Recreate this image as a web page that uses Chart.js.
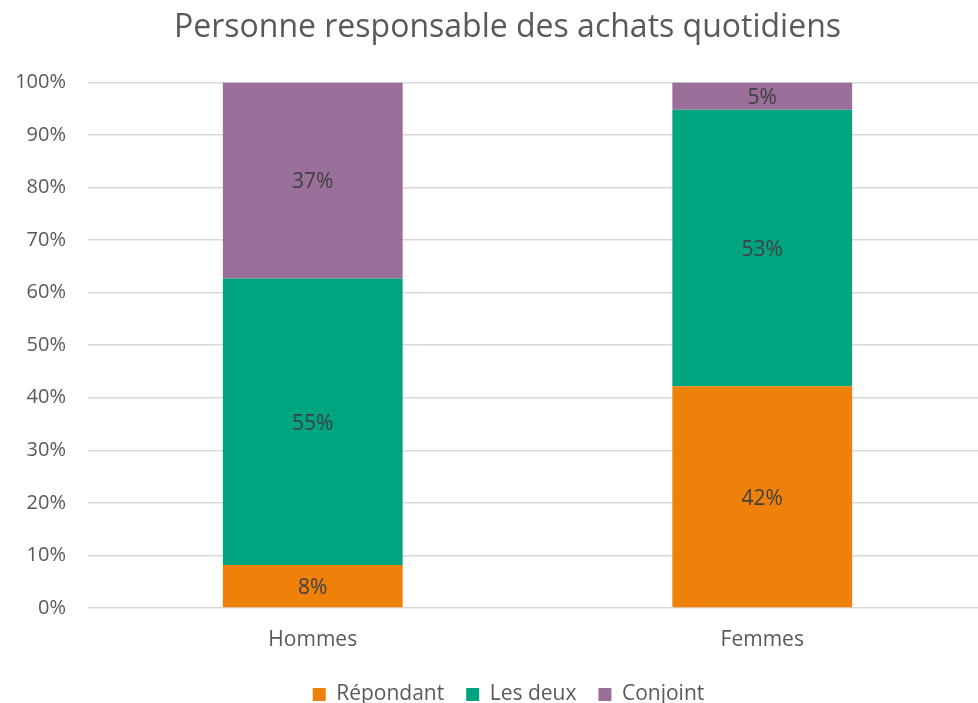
<!DOCTYPE html>
<html>
<head>
<meta charset="utf-8">
<script src="https://cdn.jsdelivr.net/npm/chart.js@4"></script>
<style>
  html, body { margin: 0; padding: 0; background: #fff; overflow: hidden; }
  #wrap { width: 1016px; height: 703px; }
</style>
</head>
<body>
<div id="wrap"><canvas id="chart"></canvas></div>
<script>
'use strict';

// Chart data
let categories = ['Hommes', 'Femmes'];
let repondant = [8.2, 42.2];
let lesDeux = [54.5, 52.6];
let conjoint = [37.3, 5.2];
let tickLabels = ['0%', '10%', '20%', '30%', '40%', '50%', '60%', '70%', '80%', '90%', '100%'];

const FONT = "'Open Sans', sans-serif";

// draws the % value in the middle of each bar piece
const barLabels = {
  id: 'barLabels',
  afterDatasetsDraw(chart) {
    let ctx = chart.ctx;
    ctx.save();
    ctx.font = '21px ' + FONT;
    ctx.fillStyle = '#404040';
    ctx.textAlign = 'center';
    ctx.textBaseline = 'middle';
    chart.data.datasets.forEach((ds, i) => {
      chart.getDatasetMeta(i).data.forEach((bar, j) => {
        let mid = (bar.y + bar.base) / 2 + 2;
        ctx.fillText(Math.round(ds.data[j]) + '%', bar.x, mid);
      });
    });
    ctx.restore();
  }
};

// the original centres title and legend a bit more to the right
const nudge = {
  id: 'nudge',
  afterLayout(chart) {
    chart.titleBlock.left += 9;
    chart.titleBlock.right += 9;
    chart.legend.left += 10;
    chart.legend.right += 10;
  }
};

new Chart(document.getElementById('chart'), {
  type: 'bar',
  data: {
    labels: categories,
    datasets: [
      { label: 'Répondant', data: repondant, backgroundColor: '#EF800A' },
      { label: 'Les deux', data: lesDeux, backgroundColor: '#00A57F' },
      { label: 'Conjoint', data: conjoint, backgroundColor: '#9A6F99' }
    ]
  },
  options: {
    responsive: true,
    maintainAspectRatio: false,
    animation: false,
    categoryPercentage: 1,
    barPercentage: 0.4,
    layout: { padding: { left: 10, right: 29, top: 0, bottom: -12 } },
    plugins: {
      title: {
        display: true,
        text: 'Personne responsable des achats quotidiens',
        color: '#595959',
        font: { family: FONT, size: 32, weight: 'normal' },
        padding: { top: 9, bottom: 35 }
      },
      legend: {
        position: 'bottom',
        labels: {
          color: '#595959',
          font: { family: FONT, size: 21 },
          boxWidth: 13,
          boxHeight: 13,
          padding: 22
        }
      },
      tooltip: { enabled: false }
    },
    scales: {
      x: {
        stacked: true,
        grid: { display: false },
        border: { display: false },
        afterFit: (scale) => { scale.height = 54; },
        ticks: { color: '#595959', font: { family: FONT, size: 21 }, padding: 11 }
      },
      y: {
        stacked: true,
        min: 0,
        max: 100,
        border: { display: false },
        grid: { color: '#d9d9d9', lineWidth: 1.5, drawTicks: false },
        afterFit: (scale) => { scale.width = 78; },
        ticks: {
          stepSize: 10,
          color: '#595959',
          font: { family: FONT, size: 20 },
          padding: 22,
          callback: (v, i) => tickLabels[i]
        }
      }
    }
  },
  plugins: [barLabels, nudge]
});
</script>
</body>
</html>
